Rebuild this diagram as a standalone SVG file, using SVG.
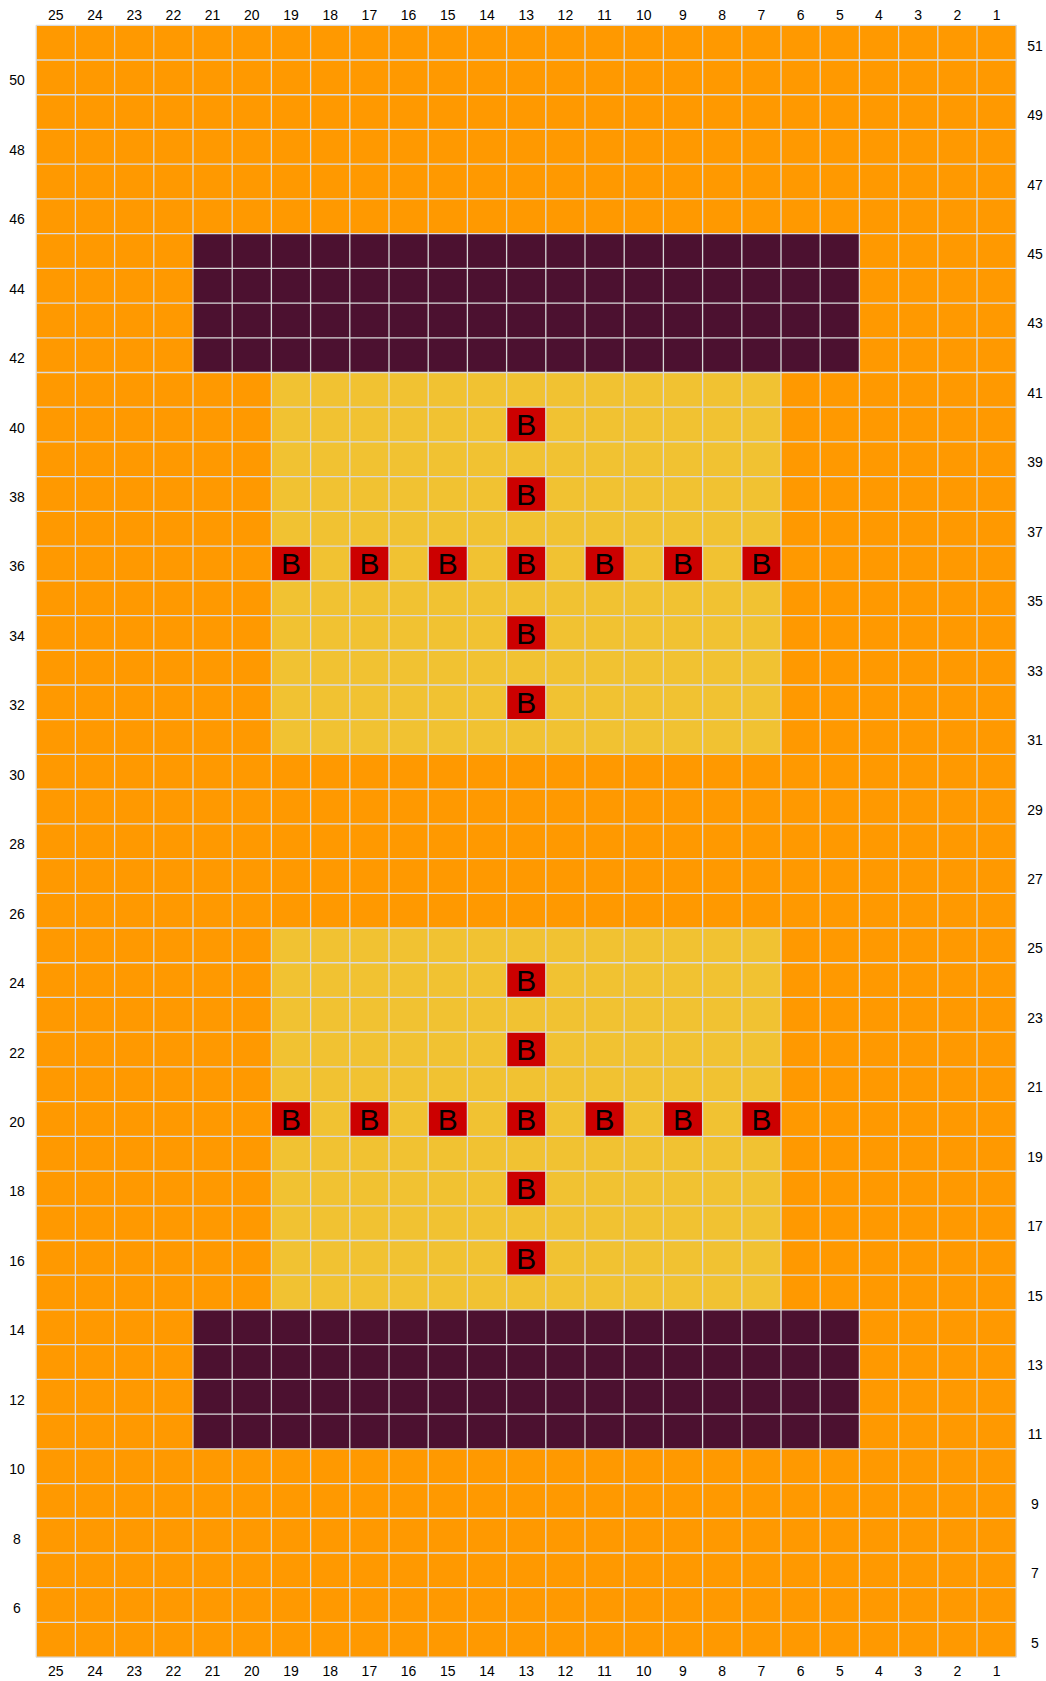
<svg xmlns="http://www.w3.org/2000/svg" xmlns:xlink="http://www.w3.org/1999/xlink" width="1046" height="1681" viewBox="0 0 1046 1681">
<style>
.lbl{font-family:"Liberation Sans",Arial,sans-serif;font-size:14px;fill:#000;text-anchor:middle}
.b{font-family:"Liberation Sans",Arial,sans-serif;font-size:30px;fill:#000;text-anchor:middle}
.red{fill:#cc0000}
.grid{stroke:#d9d9d9;stroke-width:1.3;fill:none}
</style>
<defs>
<g id="bcell"><rect class="red" width="39.2" height="34.72"/><text class="b" x="19.6" y="28.1">B</text></g>
</defs>
<rect width="1046" height="1681" fill="#ffffff"/>
<g id="background">
<rect x="36.2" y="25.3" width="980" height="1631.84" fill="#ff9900"/>
<rect x="193" y="233.62" width="666.4" height="138.88" fill="#4c1130"/>
<rect x="193" y="1309.94" width="666.4" height="138.88" fill="#4c1130"/>
<rect x="271.4" y="372.5" width="509.6" height="381.92" fill="#f1c232"/>
<rect x="271.4" y="928.02" width="509.6" height="381.92" fill="#f1c232"/>
</g>
<g id="cells">
<use id="c13r40" xlink:href="#bcell" x="506.6" y="407.22"/>
<use id="c13r38" xlink:href="#bcell" x="506.6" y="476.66"/>
<use id="c19r36" xlink:href="#bcell" x="271.4" y="546.1"/>
<use id="c17r36" xlink:href="#bcell" x="349.8" y="546.1"/>
<use id="c15r36" xlink:href="#bcell" x="428.2" y="546.1"/>
<use id="c13r36" xlink:href="#bcell" x="506.6" y="546.1"/>
<use id="c11r36" xlink:href="#bcell" x="585" y="546.1"/>
<use id="c9r36" xlink:href="#bcell" x="663.4" y="546.1"/>
<use id="c7r36" xlink:href="#bcell" x="741.8" y="546.1"/>
<use id="c13r34" xlink:href="#bcell" x="506.6" y="615.54"/>
<use id="c13r32" xlink:href="#bcell" x="506.6" y="684.98"/>
<use id="c13r24" xlink:href="#bcell" x="506.6" y="962.74"/>
<use id="c13r22" xlink:href="#bcell" x="506.6" y="1032.18"/>
<use id="c19r20" xlink:href="#bcell" x="271.4" y="1101.62"/>
<use id="c17r20" xlink:href="#bcell" x="349.8" y="1101.62"/>
<use id="c15r20" xlink:href="#bcell" x="428.2" y="1101.62"/>
<use id="c13r20" xlink:href="#bcell" x="506.6" y="1101.62"/>
<use id="c11r20" xlink:href="#bcell" x="585" y="1101.62"/>
<use id="c9r20" xlink:href="#bcell" x="663.4" y="1101.62"/>
<use id="c7r20" xlink:href="#bcell" x="741.8" y="1101.62"/>
<use id="c13r18" xlink:href="#bcell" x="506.6" y="1171.06"/>
<use id="c13r16" xlink:href="#bcell" x="506.6" y="1240.5"/>
</g>
<g id="gridlines" class="grid">
<path d="M36.2 25.3V1657.14M75.4 25.3V1657.14M114.6 25.3V1657.14M153.8 25.3V1657.14M193 25.3V1657.14M232.2 25.3V1657.14M271.4 25.3V1657.14M310.6 25.3V1657.14M349.8 25.3V1657.14M389 25.3V1657.14M428.2 25.3V1657.14M467.4 25.3V1657.14M506.6 25.3V1657.14M545.8 25.3V1657.14M585 25.3V1657.14M624.2 25.3V1657.14M663.4 25.3V1657.14M702.6 25.3V1657.14M741.8 25.3V1657.14M781 25.3V1657.14M820.2 25.3V1657.14M859.4 25.3V1657.14M898.6 25.3V1657.14M937.8 25.3V1657.14M977 25.3V1657.14M1016.2 25.3V1657.14"/>
<path d="M36.2 25.3H1016.2M36.2 60.02H1016.2M36.2 94.74H1016.2M36.2 129.46H1016.2M36.2 164.18H1016.2M36.2 198.9H1016.2M36.2 233.62H1016.2M36.2 268.34H1016.2M36.2 303.06H1016.2M36.2 337.78H1016.2M36.2 372.5H1016.2M36.2 407.22H1016.2M36.2 441.94H1016.2M36.2 476.66H1016.2M36.2 511.38H1016.2M36.2 546.1H1016.2M36.2 580.82H1016.2M36.2 615.54H1016.2M36.2 650.26H1016.2M36.2 684.98H1016.2M36.2 719.7H1016.2M36.2 754.42H1016.2M36.2 789.14H1016.2M36.2 823.86H1016.2M36.2 858.58H1016.2M36.2 893.3H1016.2M36.2 928.02H1016.2M36.2 962.74H1016.2M36.2 997.46H1016.2M36.2 1032.18H1016.2M36.2 1066.9H1016.2M36.2 1101.62H1016.2M36.2 1136.34H1016.2M36.2 1171.06H1016.2M36.2 1205.78H1016.2M36.2 1240.5H1016.2M36.2 1275.22H1016.2M36.2 1309.94H1016.2M36.2 1344.66H1016.2M36.2 1379.38H1016.2M36.2 1414.1H1016.2M36.2 1448.82H1016.2M36.2 1483.54H1016.2M36.2 1518.26H1016.2M36.2 1552.98H1016.2M36.2 1587.7H1016.2M36.2 1622.42H1016.2M36.2 1657.14H1016.2"/>
</g>
<g id="col-labels-top" class="lbl">
<text x="55.8" y="19.5">25</text><text x="95" y="19.5">24</text><text x="134.2" y="19.5">23</text><text x="173.4" y="19.5">22</text><text x="212.6" y="19.5">21</text><text x="251.8" y="19.5">20</text><text x="291" y="19.5">19</text><text x="330.2" y="19.5">18</text><text x="369.4" y="19.5">17</text><text x="408.6" y="19.5">16</text><text x="447.8" y="19.5">15</text><text x="487" y="19.5">14</text><text x="526.2" y="19.5">13</text><text x="565.4" y="19.5">12</text><text x="604.6" y="19.5">11</text><text x="643.8" y="19.5">10</text><text x="683" y="19.5">9</text><text x="722.2" y="19.5">8</text><text x="761.4" y="19.5">7</text><text x="800.6" y="19.5">6</text><text x="839.8" y="19.5">5</text><text x="879" y="19.5">4</text><text x="918.2" y="19.5">3</text><text x="957.4" y="19.5">2</text><text x="996.6" y="19.5">1</text>
</g>
<g id="col-labels-bottom" class="lbl">
<text x="55.8" y="1676">25</text><text x="95" y="1676">24</text><text x="134.2" y="1676">23</text><text x="173.4" y="1676">22</text><text x="212.6" y="1676">21</text><text x="251.8" y="1676">20</text><text x="291" y="1676">19</text><text x="330.2" y="1676">18</text><text x="369.4" y="1676">17</text><text x="408.6" y="1676">16</text><text x="447.8" y="1676">15</text><text x="487" y="1676">14</text><text x="526.2" y="1676">13</text><text x="565.4" y="1676">12</text><text x="604.6" y="1676">11</text><text x="643.8" y="1676">10</text><text x="683" y="1676">9</text><text x="722.2" y="1676">8</text><text x="761.4" y="1676">7</text><text x="800.6" y="1676">6</text><text x="839.8" y="1676">5</text><text x="879" y="1676">4</text><text x="918.2" y="1676">3</text><text x="957.4" y="1676">2</text><text x="996.6" y="1676">1</text>
</g>
<g id="row-labels-left" class="lbl">
<text x="17" y="85.38">50</text><text x="17" y="154.82">48</text><text x="17" y="224.26">46</text><text x="17" y="293.7">44</text><text x="17" y="363.14">42</text><text x="17" y="432.58">40</text><text x="17" y="502.02">38</text><text x="17" y="571.46">36</text><text x="17" y="640.9">34</text><text x="17" y="710.34">32</text><text x="17" y="779.78">30</text><text x="17" y="849.22">28</text><text x="17" y="918.66">26</text><text x="17" y="988.1">24</text><text x="17" y="1057.54">22</text><text x="17" y="1126.98">20</text><text x="17" y="1196.42">18</text><text x="17" y="1265.86">16</text><text x="17" y="1335.3">14</text><text x="17" y="1404.74">12</text><text x="17" y="1474.18">10</text><text x="17" y="1543.62">8</text><text x="17" y="1613.06">6</text>
</g>
<g id="row-labels-right" class="lbl">
<text x="1035" y="50.66">51</text><text x="1035" y="120.1">49</text><text x="1035" y="189.54">47</text><text x="1035" y="258.98">45</text><text x="1035" y="328.42">43</text><text x="1035" y="397.86">41</text><text x="1035" y="467.3">39</text><text x="1035" y="536.74">37</text><text x="1035" y="606.18">35</text><text x="1035" y="675.62">33</text><text x="1035" y="745.06">31</text><text x="1035" y="814.5">29</text><text x="1035" y="883.94">27</text><text x="1035" y="953.38">25</text><text x="1035" y="1022.82">23</text><text x="1035" y="1092.26">21</text><text x="1035" y="1161.7">19</text><text x="1035" y="1231.14">17</text><text x="1035" y="1300.58">15</text><text x="1035" y="1370.02">13</text><text x="1035" y="1439.46">11</text><text x="1035" y="1508.9">9</text><text x="1035" y="1578.34">7</text><text x="1035" y="1647.78">5</text>
</g>
</svg>
